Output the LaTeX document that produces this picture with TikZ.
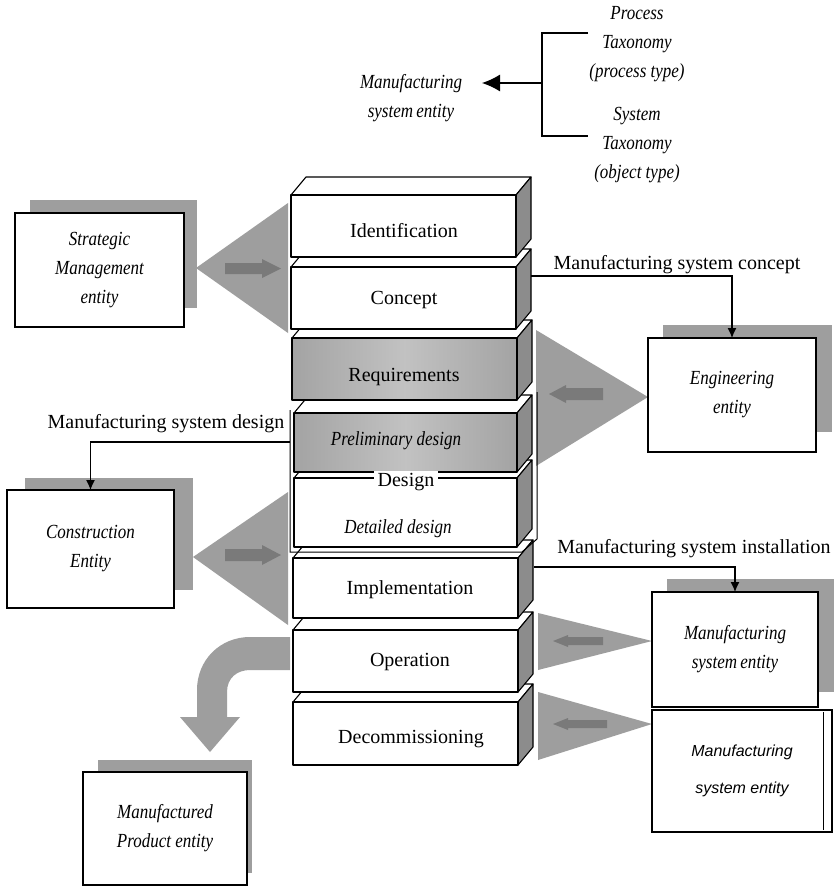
\documentclass[tikz,border=0pt]{standalone}
\usepackage{fontspec}
\setmainfont{Liberation Serif}
\newfontfamily\condit[FakeStretch=0.85]{Liberation Serif}
\newfontfamily\sansit{Liberation Sans}
\usetikzlibrary{arrows.meta}
\definecolor{shadowgray}{gray}{0.62}
\definecolor{funnelgray}{gray}{0.62}
\definecolor{arrowgray}{gray}{0.48}
\definecolor{sidegray}{gray}{0.55}
\definecolor{darkface}{gray}{0.52}
\newcommand{\blkdx}{15}
\newcommand{\blkdy}{18}
\newcommand{\blk}[6]{%
  \pgfmathsetmacro{\blkw}{#4-#2}%
  \pgfmathsetmacro{\blkh}{#5-#3}%
  \filldraw[blockline, fill=white] (#2,#3) -- (#2+\blkdx,#3-\blkdy) -- (#4+\blkdx,#3-\blkdy) -- (#4,#3) -- cycle;
  \filldraw[blockline, fill=sidegray] (#4,#3) -- (#4+\blkdx,#3-\blkdy) -- (#4+\blkdx,#5-\blkdy) -- (#4,#5) -- cycle;
  \node[blockline, draw, #6, minimum width=\blkw pt, minimum height=\blkh pt, anchor=north west, inner sep=0pt, outer sep=0pt] (#1) at (#2,#3) {};
}
\tikzset{
  lbl/.style={font=\fontsize{20}{24}\selectfont, inner sep=1pt},
  itl/.style={font=\condit\itshape\fontsize{20}{29}\selectfont, align=center, inner sep=1pt},
  entbox/.style={draw=black, line width=1.3pt, fill=white, anchor=north west, inner sep=0pt, outer sep=0pt, align=center, font=\condit\itshape\fontsize{20}{29}\selectfont},
  shadowbox/.style={fill=shadowgray},
  funnel/.style={fill=funnelgray},
  inarrow/.style={fill=arrowgray},
  conn/.style={line width=1.2pt, -{Latex[length=10pt,width=9pt]}},
  blockline/.style={line width=1.1pt, line join=round},
  whitefront/.style={fill=white},
  darkfront/.style={left color=gray!72, right color=gray!72, middle color=gray!48},
}
\begin{document}
\begin{tikzpicture}[x=1pt,y=-1pt]
\fill[white] (0,0) rectangle (834,887);
\useasboundingbox (0,0) rectangle (834,887);

% ---------- top taxonomy ----------
\node[itl] (mse0) at (411,98) {Manufacturing\\system\,entity};
\node[itl] (proc) at (637,44) {Process\\Taxonomy\\(process type)};
\node[itl] (syst) at (637,145) {System\\Taxonomy\\(object type)};
\coordinate (brT) at (588,33);
\coordinate (brB) at (588,136);
\coordinate (brM) at (542,83);
\coordinate (tipA) at (482,83);
\draw[line width=1.2pt] (brT) -| (brM) |- (brB);
\draw[line width=1.2pt, -{Latex[length=18pt,width=17pt]}] (brM) -- (tipA);

% ---------- funnels (behind) ----------
\fill[funnel] (196,268) -- (288,203) -- (288,333) -- cycle;
\fill[inarrow] (225,263) -- (262,263) -- (262,259) -- (281,268.5) -- (262,278) -- (262,274) -- (225,274) -- cycle;
\fill[funnel] (648,397) -- (536,330) -- (536,466) -- cycle;
\fill[inarrow] (549,394) -- (566,385) -- (566,388) -- (603,388) -- (603,400) -- (566,400) -- (566,403) -- cycle;
\fill[funnel] (193,557) -- (288,492) -- (288,625) -- cycle;
\fill[inarrow] (225,549) -- (262,549) -- (262,545) -- (281,555) -- (262,565) -- (262,561) -- (225,561) -- cycle;
\fill[funnel] (652,641) -- (538,613) -- (538,670) -- cycle;
\fill[inarrow] (553,641) -- (568,635) -- (568,637) -- (603,637) -- (603,645) -- (568,645) -- (568,647) -- cycle;
\fill[funnel] (652,724) -- (538,692) -- (538,760) -- cycle;
\fill[inarrow] (553,724) -- (568,718) -- (568,720) -- (607,720) -- (607,728) -- (568,728) -- (568,730) -- cycle;

% curved arrow from Operation
\fill[funnel] (290,637) -- (250,637) .. controls (220,637) and (197,660) .. (197,690) -- (197,717) -- (180,717) -- (210,752) -- (240,717) -- (227,717) -- (227,692) .. controls (227,678) and (237,670) .. (250,670) -- (290,670) -- cycle;

% ---------- central stack (bottom to top) ----------
\blk{decom}{293}{702}{518}{765}{whitefront}
\blk{oper}{293}{630}{518}{692}{whitefront}
\blk{impl}{293}{558}{518}{618}{whitefront}
\blk{detailed}{294}{478}{517}{547}{whitefront}
\blk{prelim}{294}{413}{517}{472}{darkfront}
\draw[line width=1pt] (290,410) -- (290,552) -- (522,552) -- (537,539) -- (537,392);
\blk{req}{292}{338}{517}{400}{darkfront}
\blk{concept}{291}{267}{516}{329}{whitefront}
\blk{ident}{291}{195}{516}{257}{whitefront}

\node[lbl] (identT) at (404,231) {Identification};
\node[lbl] (conceptT) at (404,300) {Concept};
\node[lbl] (reqT) at (404,377) {Requirements};
\node[itl] (prelimT) at (396,441) {Preliminary design};
\node[lbl, fill=white, inner xsep=4pt, inner ysep=2pt] (designT) at (406,482) {Design};
\node[itl] (detailedT) at (398,529) {Detailed design};
\node[lbl] (implT) at (410,590) {Implementation};
\node[lbl] (operT) at (410,662) {Operation};
\node[lbl] (decomT) at (411,739) {Decommissioning};

% ---------- entity boxes ----------
\fill[shadowbox] (30,200) rectangle (197,308);
\node[entbox, minimum width=169pt, minimum height=114pt] (strat) at (15,213) {Strategic\\Management\\entity};

\fill[shadowbox] (663,325) rectangle (832,432);
\node[entbox, minimum width=168pt, minimum height=114pt] (eng) at (648,338) {Engineering\\entity};

\fill[shadowbox] (25,478) rectangle (193,590);
\node[entbox, minimum width=167pt, minimum height=118pt] (constr) at (7,490) {Construction\\Entity};

\fill[shadowbox] (667,579) rectangle (834,692);
\node[entbox, minimum width=166pt, minimum height=115pt] (umse) at (652,592) {Manufacturing\\system\,entity};

\node[entbox, line width=2pt, minimum width=180pt, minimum height=122pt, font=\sansit\itshape\fontsize{16}{37}\selectfont] (lmse) at (652,710) {Manufacturing\\system entity};
\draw[line width=1pt] ([xshift=-9pt,yshift=-2pt]lmse.north east) -- ([xshift=-9pt,yshift=2pt]lmse.south east);

\fill[shadowbox] (98,760) rectangle (252,873);
\node[entbox, minimum width=164pt, minimum height=113pt] (mprod) at (83,772) {Manufactured\\Product entity};

% ---------- connectors ----------
\node[lbl] (mscT) at (677,265) {Manufacturing system concept};
\coordinate (cS) at (531,276);
\draw[conn] (cS) -| (eng.north);

\node[lbl] (msdT) at (166,424) {Manufacturing system design};
\coordinate (dS) at (290,442);
\draw[conn] (dS) -| (constr.north);

\node[lbl] (msiT) at (694,549) {Manufacturing system installation};
\coordinate (iS) at (534,567);
\draw[conn] (iS) -| (umse.north);
\end{tikzpicture}
\end{document}
